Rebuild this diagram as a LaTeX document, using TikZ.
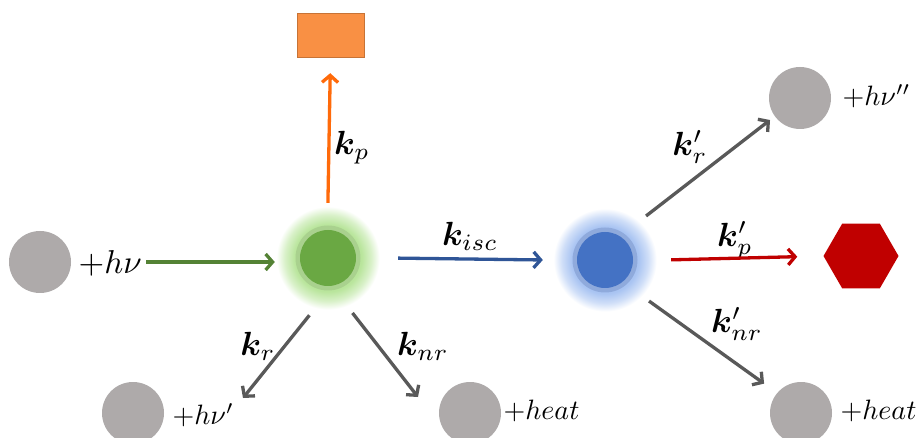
\documentclass[tikz,border=0pt]{standalone}
\usepackage{amsmath,bm}
\usetikzlibrary{shapes.geometric,arrows.meta}
\definecolor{greyC}{HTML}{AEAAAA}
\definecolor{greyA}{HTML}{595959}
\definecolor{greenA}{HTML}{548235}
\definecolor{blueA}{HTML}{2F5597}
\definecolor{redA}{HTML}{C00000}
\definecolor{orangeA}{HTML}{FF6A0A}
\definecolor{orangeR}{HTML}{F99044}
\definecolor{coreG}{HTML}{6AA843}
\definecolor{ringG}{HTML}{A9D18E}
\definecolor{glowG}{HTML}{B9E59C}
\definecolor{coreB}{HTML}{4472C4}
\definecolor{ringB}{HTML}{8FAADC}
\definecolor{glowB}{HTML}{A9C4F2}
\pgfdeclareradialshading{greenglow}{\pgfpoint{0bp}{0bp}}{color(0bp)=(glowG); color(14bp)=(glowG); color(18bp)=(glowG!55!white); color(21.5bp)=(white); color(25bp)=(white); color(50bp)=(white)}
\pgfdeclareradialshading{blueglow}{\pgfpoint{0bp}{0bp}}{color(0bp)=(glowB); color(14bp)=(glowB); color(18bp)=(glowB!55!white); color(21.5bp)=(white); color(25bp)=(white); color(50bp)=(white)}
\begin{document}
\begin{tikzpicture}[x=1pt,y=-1pt,
  glow/.style={circle, minimum size=120pt, inner sep=0pt},
  ringc/.style={circle, minimum size=65pt, inner sep=0pt},
  corec/.style={circle, minimum size=56pt, inner sep=0pt},
  grey/.style={circle, fill=greyC, minimum size=62pt, inner sep=0pt},
  lab/.style={scale=2.8, inner sep=0pt},
  klab/.style={scale=3.35, inner sep=0pt},
  arr/.style={line width=3.3pt, -{Straight Barb[length=7pt,width=16pt]}}
]
\clip (0,0) rectangle (918,438);
\fill[white] (0,0) rectangle (918,438);
% states
\node[glow, shading=greenglow] (S1) at (328,258) {};
\node[ringc, fill=ringG] (S1r) at (328,258) {};
\node[corec, fill=coreG] (S1c) at (328,258) {};
\node[glow, shading=blueglow] (S2) at (605,260) {};
\node[ringc, fill=ringB] (S2r) at (605,260) {};
\node[corec, fill=coreB] (S2c) at (605,260) {};
% products
\node[grey] (g1) at (40,262) {};
\node[grey] (g2) at (133,413) {};
\node[grey] (g4) at (470,413) {};
\node[grey] (g3) at (800,98) {};
\node[grey] (g5) at (801,413) {};
\node[draw=orangeR!80!black, line width=0.4pt, fill=orangeR, minimum width=67pt, minimum height=44pt, inner sep=0pt] (rect) at (330.5,35) {};
\node[regular polygon, regular polygon sides=6, fill=redA, minimum size=75pt, inner sep=0pt] (hex) at (861,256) {};
% labels
\node[lab, scale=1.18, anchor=west] (hv) at (78,263) {$+h\nu$};
\node[lab, anchor=west] (hv1) at (172,415) {$+h\nu'$};
\node[lab, anchor=west] (heat1) at (503,411) {$+heat$};
\node[lab, anchor=west] (hv2) at (842,96) {$+h\nu''$};
\node[lab, anchor=west] (heat2) at (840,411) {$+heat$};
\node[klab] (kp) at (352,148) {$\bm{k}_{p}$};
\node[klab] (kisc) at (470,236) {$\bm{k}_{isc}$};
\node[klab] (kr) at (258,346) {$\bm{k}_{r}$};
\node[klab] (knr) at (423,346) {$\bm{k}_{nr}$};
\node[klab] (kr2) at (690,147) {$\bm{k}'_{r}$};
\node[klab] (kp2) at (735,240) {$\bm{k}'_{p}$};
\node[klab] (knr2) at (737,324) {$\bm{k}'_{nr}$};
% arrow ends
\coordinate (krEnd) at (243,398);
\coordinate (knrEnd) at (418,397);
% connectors
\draw[arr, greenA, shorten <=4pt, shorten >=-7pt] (hv.east |- 0,262) -- (S1.west |- 0,262);
\draw[arr, orangeA, shorten <=-5pt, shorten >=16pt] (S1.north) -- (rect.south);
\draw[arr, blueA, shorten <=10pt, shorten >=2pt] (S1.east) -- (S2.west);
\draw[arr, redA, shorten <=6pt, shorten >=26pt] (S2.east) -- (hex.west);
\draw[arr, greyA] (S1.252.5) -- (krEnd);
\draw[arr, greyA] (S1.294) -- (knrEnd);
\draw[arr, greyA, shorten >=6pt] (S2.47.5) -- (g3.216);
\draw[arr, greyA, shorten >=16pt] (S2.317) -- (g5.140);
\end{tikzpicture}
\end{document}
